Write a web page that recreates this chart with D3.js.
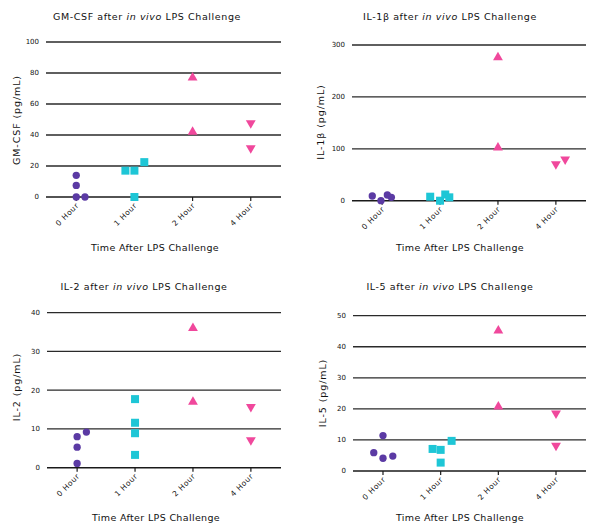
<!DOCTYPE html>
<html><head><meta charset="utf-8">
<script src="https://cdn.jsdelivr.net/npm/d3@7"></script>
<style>body{margin:0;background:#fff}svg{display:block}text{font-family:"DejaVu Sans",Verdana,sans-serif;fill:#111}</style>
</head><body>
<script>
const categories = ["0 Hour", "1 Hour", "2 Hour", "4 Hour"];
const xAxisTitle = "Time After LPS Challenge";
const colors = ["#5b3aa4", "#1ec6d6", "#f0489c", "#f0489c"];

// values per category (pg/mL)
const gmcsf = [[14, 7.5, 0, 0], [17, 17, 0, 22.5], [77, 42], [47.7, 31.6]];
const il1b  = [[9, 0, 11, 6.5], [7.7, 0, 12, 6.5], [276, 102], [70.7, 79.7]];
const il2   = [[8.0, 5.3, 1.1, 9.2], [17.7, 11.6, 8.9, 3.3], [36, 17], [15.7, 7.1]];
const il5   = [[5.9, 11.4, 4.1, 4.8], [7.1, 6.8, 2.7, 9.7], [45.2, 20.7], [18.6, 8.2]];

// horizontal scatter (fraction of category step)
const gmcsfJitter = [[0, 0, 0, 0.15], [-0.155, 0, 0, 0.17], [0, 0], [0, 0]];
const il1bJitter  = [[-0.17, -0.02, 0.09, 0.16], [-0.17, 0, 0.09, 0.16], [0, 0], [0, 0.16]];
const il2Jitter   = [[0, 0, 0, 0.16], [0, 0, 0, 0], [0, 0], [0, 0]];
const il5Jitter   = [[-0.16, 0, 0, 0.17], [-0.14, 0, 0, 0.19], [0, 0], [0, 0]];

const yTicks1 = [0, 20, 40, 60, 80, 100];
const yTicks2 = [0, 100, 200, 300];
const yTicks3 = [0, 10, 20, 30, 40];
const yTicks4 = [0, 10, 20, 30, 40, 50];

const svg = d3.select("body").append("svg").attr("width", 600).attr("height", 531);

const panels = [
  {name:"GM-CSF", ylab:"GM-CSF (pg/mL)", data:gmcsf, jit:gmcsfJitter, ticks:yTicks1, max:100,
   xr:[46,281], yr:[197,42], tx:147, ty:20, lx:155, ly:251, yx:17, yy:120},
  {name:"IL-1β", ylab:"IL-1β (pg/mL)", data:il1b, jit:il1bJitter, ticks:yTicks2, max:300,
   xr:[352,586], yr:[200.7,45], tx:450, ty:20, lx:460, ly:251, yx:321, yy:122},
  {name:"IL-2", ylab:"IL-2 (pg/mL)", data:il2, jit:il2Jitter, ticks:yTicks3, max:40,
   xr:[47,281], yr:[467.7,312.7], tx:144, ty:290, lx:156, ly:521, yx:17, yy:387},
  {name:"IL-5", ylab:"IL-5 (pg/mL)", data:il5, jit:il5Jitter, ticks:yTicks4, max:50,
   xr:[353,586], yr:[471,315.7], tx:450, ty:290, lx:460, ly:521, yx:323, yy:393}
];

const shapes = [d3.symbolCircle, d3.symbolSquare, d3.symbolTriangle, d3.symbolTriangle];
const sizes = [42, 64, 42, 42];

panels.forEach(p => {
  const g = svg.append("g");
  const x = d3.scalePoint().domain(categories).range(p.xr).padding(0.52);
  const y = d3.scaleLinear().domain([0, p.max]).range(p.yr);
  const step = x.step();

  g.selectAll("line.grid").data(p.ticks).join("line")
    .attr("x1", p.xr[0]).attr("x2", p.xr[1])
    .attr("y1", d => y(d)).attr("y2", d => y(d))
    .attr("stroke", d => d === 0 ? "#1a1a1a" : "#2a2a2a")
    .attr("stroke-width", d => d === 0 ? 1.6 : 1.3);

  g.selectAll("text.yt").data(p.ticks).join("text")
    .attr("x", p.xr[0] - 7).attr("y", d => y(d)).attr("dy", "0.35em")
    .attr("text-anchor", "end").attr("font-size", 7).text(d => d);

  const base = y(0);
  g.selectAll("line.xt").data(categories).join("line")
    .attr("x1", d => x(d)).attr("x2", d => x(d))
    .attr("y1", base).attr("y2", base + 4)
    .attr("stroke", "#1a1a1a").attr("stroke-width", 1.2);
  g.selectAll("text.xl").data(categories).join("text")
    .attr("transform", d => `translate(${x(d) + 3},${base + 9}) rotate(-45)`)
    .attr("text-anchor", "end").attr("font-size", 7.5).attr("letter-spacing", 0.6).text(d => d);

  const t = g.append("text").attr("x", p.tx).attr("y", p.ty)
    .attr("text-anchor", "middle").attr("font-size", 9.5).attr("letter-spacing", 0.6);
  t.append("tspan").text(p.name + " after ");
  t.append("tspan").attr("font-style", "italic").text("in vivo");
  t.append("tspan").text(" LPS Challenge");

  g.append("text").attr("x", p.lx).attr("y", p.ly).attr("text-anchor", "middle")
    .attr("font-size", 9.5).attr("letter-spacing", 0.35).text(xAxisTitle);
  g.append("text").attr("transform", `translate(${p.yx},${p.yy}) rotate(-90)`)
    .attr("text-anchor", "middle").attr("dy", "0.35em").attr("font-size", 9.5)
    .attr("letter-spacing", 0.9).text(p.ylab);

  p.data.forEach((vals, ci) => {
    const sym = d3.symbol().type(shapes[ci]).size(sizes[ci]);
    vals.forEach((v, i) => {
      const cx = x(categories[ci]) + p.jit[ci][i] * step;
      const cy = y(v);
      g.append("path").attr("d", sym())
        .attr("transform", `translate(${cx},${cy})` + (ci === 3 ? " rotate(180)" : ""))
        .attr("fill", colors[ci]);
    });
  });
});
</script>
</body></html>
